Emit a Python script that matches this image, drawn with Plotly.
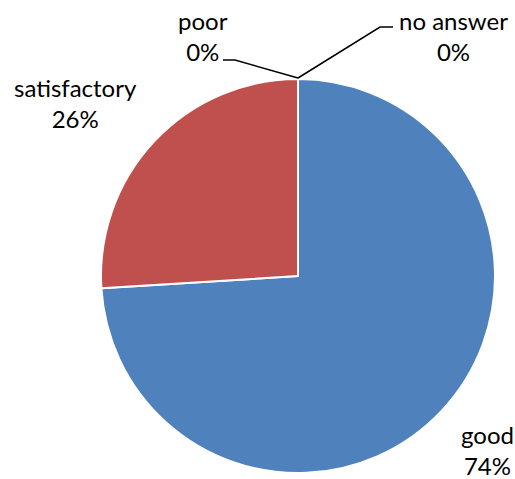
import plotly.graph_objects as go

labels = ["good", "satisfactory", "poor", "no answer"]
values = [74, 26, 0, 0]
colors = ["#4F81BD", "#C0504D", "#9BBB59", "#8064A2"]

W, H = 515, 479
fig = go.Figure(go.Pie(
    labels=labels, values=values, sort=False, direction="clockwise", rotation=0,
    marker=dict(colors=colors, line=dict(color="white", width=2)),
    textinfo="none", hoverinfo="label+percent", showlegend=False,
    domain=dict(x=[101 / W, 495 / W], y=[(H - 473) / H, (H - 79) / H]),
))

total = sum(values)
pct = {l: round(100 * v / total) for l, v in zip(labels, values)}
label_pos = {"good": (487, 450), "satisfactory": (75, 103), "poor": (203, 36), "no answer": (453, 36)}
ann = []
for l in labels:
    x, y = label_pos[l]
    ann.append(dict(x=x / W, y=1 - y / H, xref="paper", yref="paper", showarrow=False,
                    xanchor="center", yanchor="middle",
                    text=f"{l}<br>{pct[l]}%", align="center",
                    font=dict(family="Lato, Open Sans, sans-serif", size=24, color="#000")))

def px(x, y):
    return f"{x / W},{1 - y / H}"

shapes = [
    dict(type="path", xref="paper", yref="paper",
         path=f"M {px(223, 60)} L {px(235, 60)} L {px(298, 78)}",
         line=dict(color="black", width=1.5)),
    dict(type="path", xref="paper", yref="paper",
         path=f"M {px(298, 78)} L {px(380, 27)} L {px(393, 27)}",
         line=dict(color="black", width=1.5)),
]

fig.update_layout(width=W, height=H, margin=dict(l=0, r=0, t=0, b=0),
                  paper_bgcolor="white", plot_bgcolor="white",
                  annotations=ann, shapes=shapes)
fig.write_html("out.html")
